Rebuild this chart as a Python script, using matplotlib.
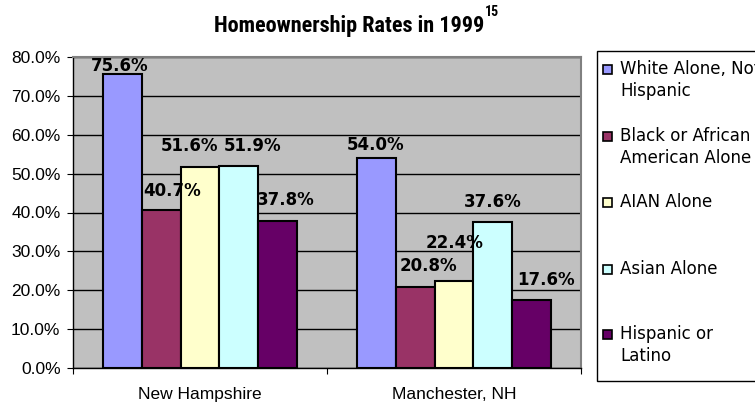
import matplotlib
matplotlib.use("Agg")
import matplotlib.pyplot as plt
from matplotlib import font_manager as fm
from matplotlib.patches import Rectangle
import numpy as np

categories = ["New Hampshire", "Manchester, NH"]
series = ["White Alone, Not\nHispanic", "Black or African\nAmerican Alone", "AIAN Alone",
          "Asian Alone", "Hispanic or\nLatino"]
white = [75.6, 54.0]
black = [40.7, 20.8]
aian = [51.6, 22.4]
asian = [51.9, 37.6]
hispanic = [37.8, 17.6]
values = [white, black, aian, asian, hispanic]
colors = ["#9999FF", "#993366", "#FFFFCC", "#CCFFFF", "#660066"]
yticks = [0, 10, 20, 30, 40, 50, 60, 70, 80]

# label nudges (pixels) relative to bar centre / bar top, per series
label_dx = [[-2.5, 0], [11.5, 13.5], [-10.5, 0.5], [13.5, -0.5], [8, 14.5]]
label_dy = [[9, 14], [20, 22], [22, 39], [21, 21], [22, 21]]

W, H = 755, 404
plt.rcParams['font.family'] = ['Liberation Sans', 'DejaVu Sans']
fig = plt.figure(figsize=(W / 100, H / 100), dpi=100)

names = {f.name for f in fm.fontManager.ttflist}
narrow = None
for cand in ["Liberation Sans Narrow", "Arial Narrow", "Roboto Condensed", "Open Sans Condensed"]:
    if cand in names:
        narrow = cand
        break

def px(x, y):
    return x / W, 1 - y / H

l, r, t, b = 73, 581, 57, 368
ax = fig.add_axes([l / W, 1 - b / H, (r - l) / W, (b - t) / H])
ax.set_facecolor("#C0C0C0")

x = np.arange(len(categories))
bw = 0.1535
for i, (vals, c) in enumerate(zip(values, colors)):
    pos = x + (i - 2) * bw
    ax.bar(pos, vals, width=bw, color=c, edgecolor="black", linewidth=1.5, zorder=3)
    for j, (xp, v) in enumerate(zip(pos, vals)):
        ax.annotate(f"{v:.1f}%", (xp, v), xytext=(label_dx[i][j], label_dy[i][j] - 6),
                    textcoords="offset pixels", ha="center", va="baseline",
                    fontsize=12, fontweight="bold", family="DejaVu Sans", zorder=10,
                    annotation_clip=False)

ax.set_ylim(0, 80)
ax.set_xlim(-0.5, 1.5)
ax.set_yticks(yticks)
ax.set_yticklabels([f"{v:.1f}%" for v in yticks], fontsize=12.5)
ax.yaxis.grid(True, color="black", linewidth=1)
ax.set_axisbelow(True)
ax.set_xticks([-0.5, 0.5, 1.5])
ax.set_xticklabels([])
ax.set_xticks(x, minor=True)
ax.set_xticklabels(categories, minor=True, fontsize=12.5)
ax.tick_params(axis="x", which="minor", length=0, pad=14)
ax.tick_params(axis="x", which="major", length=4, direction="out", color="black")
ax.tick_params(axis="y", length=4, direction="out", pad=5)
for s in ["left", "bottom"]:
    ax.spines[s].set_color("black")
    ax.spines[s].set_linewidth(1)
for s in ["top", "right"]:
    ax.spines[s].set_color("#808080")
    ax.spines[s].set_linewidth(1.5)

# title
tfam = [narrow, "Liberation Sans"] if narrow else ["Liberation Sans"]
tsize = 16 if narrow else 14
fig.text(*px(484, 32), "Homeownership Rates in 1999", ha="right", va="baseline",
         fontsize=tsize, fontweight="bold", family=tfam)
fig.text(*px(485, 16), "15", ha="left", va="baseline", fontsize=10 if narrow else 8,
         fontweight="bold", family=tfam)

# legend
fig.patches.append(Rectangle(px(597, 381), (800 - 597) / W, (381 - 51) / H,
                             transform=fig.transFigure, facecolor="white",
                             edgecolor="black", linewidth=1))
legend_base = [74, 141, 207, 274, 339]
for name, c, yy in zip(series, colors, legend_base):
    fig.patches.append(Rectangle(px(603, yy), 9 / W, 9 / H, transform=fig.transFigure,
                                 facecolor=c, edgecolor="black", linewidth=1.2))
    for k, line in enumerate(name.split("\n")):
        fig.text(*px(620, yy + 22 * k), line, ha="left", va="baseline", fontsize=12,
                 family="DejaVu Sans")

fig.savefig("out.png", dpi=100)
